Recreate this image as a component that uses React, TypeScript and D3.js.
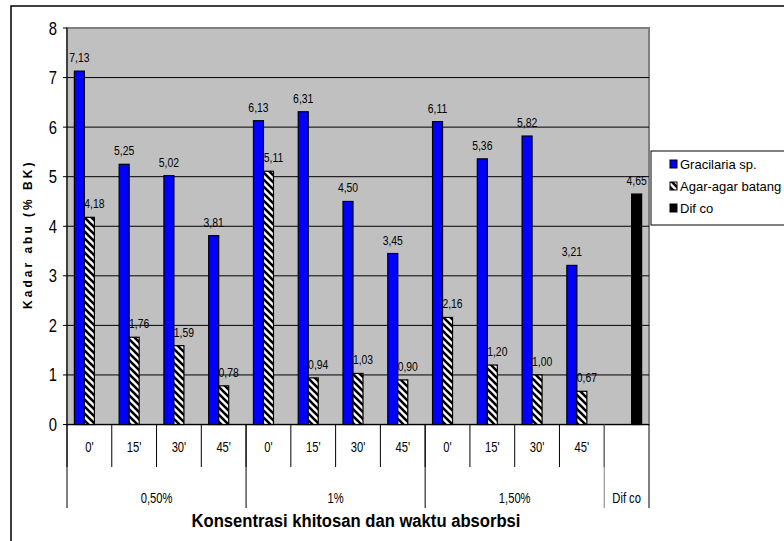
import React from "react";
import * as d3 from "d3";

const times = ["0'", "15'", "30'", "45'", "0'", "15'", "30'", "45'", "0'", "15'", "30'", "45'", ""];
const groups = ["0,50%", "1%", "1,50%", "Dif co"];
const groupSizes = [4, 4, 4, 1];
const gracilaria: (number | null)[] = [7.13, 5.25, 5.02, 3.81, 6.13, 6.31, 4.5, 3.45, 6.11, 5.36, 5.82, 3.21, null];
const agar: (number | null)[] = [4.18, 1.76, 1.59, 0.78, 5.11, 0.94, 1.03, 0.9, 2.16, 1.2, 1.0, 0.67, null];
const difco: (number | null)[] = [null, null, null, null, null, null, null, null, null, null, null, null, 4.65];
const seriesNames = ["Gracilaria sp.", "Agar-agar batang", "Dif co"];
const yTicks = [0, 1, 2, 3, 4, 5, 6, 7, 8];

const SANS = "'Liberation Sans', Arial, sans-serif";
const SX = 0.8;

function NText(props: {
  x: number;
  y: number;
  size: number;
  anchor?: string;
  bold?: boolean;
  children: React.ReactNode;
}) {
  return (
    <text
      transform={`translate(${props.x},${props.y}) scale(${SX},1)`}
      textAnchor={props.anchor || "middle"}
      fontFamily={SANS}
      fontSize={props.size}
      fontWeight={props.bold ? "bold" : "normal"}
      fill="#000"
    >
      {props.children}
    </text>
  );
}

export default function App() {
  const W = 784, H = 541;
  const L = 67, R = 649, T = 28, B = 424.5;
  const idx = times.map((_, i) => i);
  const x = d3.scaleBand<number>().domain(idx).range([L, R]).padding(0);
  const bw = x.bandwidth();
  const inner = d3.scaleBand<number>().domain([0, 1, 2]).range([bw * 0.165, bw * 0.165 + 30]).padding(0);
  const y = d3.scaleLinear().domain([0, 8]).range([B, T]);
  const series = [gracilaria, agar, difco];
  const fills = ["#0000FF", "url(#hatch)", "#000000"];
  const fmt = (v: number) => v.toFixed(2).replace(".", ",");

  let acc = 0;
  const groupBounds = groupSizes.map((n) => {
    const s = acc;
    acc += n;
    return [s, acc];
  });

  return (
    <svg width={W} height={H} style={{ position: "absolute", left: 0, top: 0, background: "#fff" }}>
      <defs>
        <pattern id="hatch" patternUnits="userSpaceOnUse" width="7" height="7">
          <rect width="7" height="7" fill="#fff" />
          <path d="M-1,-1 L8,8 M-8,-1 L1,8 M6,-1 L15,8" stroke="#000" strokeWidth="2.6" />
        </pattern>
      </defs>
      <rect x={11} y={6} width={800} height={560} fill="#fff" stroke="#000" strokeWidth={1.5} />
      <rect x={L} y={T} width={R - L} height={B - T} fill="#C0C0C0" stroke="#808080" strokeWidth={2} />
      {yTicks.filter((t) => t > 0 && t < 8).map((t) => (
        <line key={"g" + t} x1={L} x2={R} y1={y(t)} y2={y(t)} stroke="#000" strokeWidth={1} />
      ))}
      <line x1={L} x2={L} y1={T} y2={B} stroke="#000" strokeWidth={1} />
      {yTicks.map((t) => (
        <g key={"t" + t}>
          <line x1={L - 4} x2={L} y1={y(t)} y2={y(t)} stroke="#000" />
          <NText x={57} y={y(t) + 6.5} size={18.5} anchor="end">
            {t}
          </NText>
        </g>
      ))}
      <text
        transform={`translate(32,${(T + B) / 2 + 8}) rotate(-90)`}
        textAnchor="middle"
        fontFamily={SANS}
        fontWeight="bold"
        fontSize={12}
        letterSpacing={3}
        fill="#000"
      >
        Kadar abu (% BK)
      </text>
      {series.map((vals, si) =>
        vals.map((v, i) =>
          v == null ? null : (
            <rect
              key={`b${si}-${i}`}
              x={(x(i) as number) + (inner(si) as number)}
              y={y(v)}
              width={inner.bandwidth()}
              height={B - y(v)}
              fill={fills[si]}
              stroke="#000"
              strokeWidth={1.2}
            />
          )
        )
      )}
      {series.map((vals, si) =>
        vals.map((v, i) =>
          v == null ? null : (
            <NText
              key={`l${si}-${i}`}
              x={(x(i) as number) + (inner(si) as number) + inner.bandwidth() / 2 + (si === 1 ? 5 : 0)}
              y={y(v) - 9}
              size={13}
            >
              {fmt(v)}
            </NText>
          )
        )
      )}
      <line x1={L} x2={R} y1={B} y2={B} stroke="#000" strokeWidth={1.2} />
      {idx.map((i) => (
        <line key={"d" + i} x1={x(i) as number} x2={x(i) as number} y1={B} y2={467} stroke="#000" />
      ))}
      {groupBounds.map(([s], gi) => (
        <line key={"gd" + gi} x1={x(s) as number} x2={x(s) as number} y1={B} y2={508} stroke={gi === 3 ? "#808080" : "#000"} />
      ))}
      <line x1={R} x2={R} y1={B} y2={508} stroke="#000" />
      {times.map((t, i) => (
        <NText key={"c" + i} x={(x(i) as number) + bw / 2} y={452} size={14}>
          {t}
        </NText>
      ))}
      {groups.map((g, gi) => {
        const [s, e] = groupBounds[gi];
        const cx = ((x(s) as number) + (e < times.length ? (x(e) as number) : R)) / 2;
        return (
          <NText key={"gl" + gi} x={cx} y={503} size={14}>
            {g}
          </NText>
        );
      })}
      <text
        x={(L + R) / 2 - 2}
        y={527}
        textAnchor="middle"
        fontFamily={SANS}
        fontWeight="bold"
        fontSize={18}
        textLength={329}
        lengthAdjust="spacingAndGlyphs"
        fill="#000"
      >
        Konsentrasi khitosan dan waktu absorbsi
      </text>
      <rect x={651} y={151} width={160} height={74} fill="#fff" stroke="#000" strokeWidth={1} />
      {seriesNames.map((n, i) => (
        <g key={"lg" + i}>
          <rect x={670} y={160 + i * 22} width={7} height={8} fill={fills[i]} stroke="#000" strokeWidth={1} />
          <text x={680} y={169 + i * 22} fontFamily={SANS} fontSize={13} fill="#000">
            {n}
          </text>
        </g>
      ))}
    </svg>
  );
}
